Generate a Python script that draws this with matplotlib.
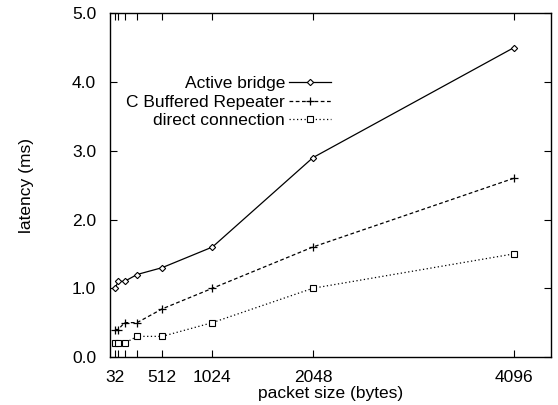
import matplotlib
matplotlib.use("Agg")
import matplotlib.pyplot as plt

plt.rcParams['font.family'] = ['Liberation Sans', 'DejaVu Sans']

# taille des paquets (octets)
packet_size = [32, 64, 128, 256, 512, 1024, 2048, 4096]
# latences mesurees (ms)
active_bridge = [1.0, 1.1, 1.1, 1.2, 1.3, 1.6, 2.9, 4.5]
buffered_repeater = [0.4, 0.4, 0.5, 0.5, 0.7, 1.0, 1.6, 2.6]
direct_connection = [0.2, 0.2, 0.2, 0.3, 0.3, 0.5, 1.0, 1.5]

x_labels = ["32", "512", "1024", "2048", "4096"]
x_label_pos = [32, 512, 1024, 2048, 4096]
y_ticks = [0.0, 1.0, 2.0, 3.0, 4.0, 5.0]

fig = plt.figure(figsize=(5.58, 4.05), dpi=100)
ax = fig.add_axes([110 / 558, 1 - 357 / 405, 441 / 558, (357 - 13.3) / 405])

fs = 12.5
ax.plot(packet_size, active_bridge, color="black", lw=0.9, ls="-",
        marker="D", ms=3.2, mfc="white", mec="black", mew=0.8,
        label="Active bridge")
ax.plot(packet_size, buffered_repeater, color="black", lw=0.9, ls=(0, (3, 2)),
        marker="+", ms=6, mew=0.9, label="C Buffered Repeater")
ax.plot(packet_size, direct_connection, color="black", lw=0.9, ls=(0, (1, 2)),
        marker="s", ms=4.5, mfc="white", mec="black", mew=0.8,
        label="direct connection")

ax.set_xlim(-20, 4475)
ax.set_ylim(0, 5.0)

ax.set_xticks(packet_size, minor=True)
ax.set_xticks(x_label_pos)
ax.set_xticklabels(x_labels, fontsize=fs)
ax.set_yticks(y_ticks)
ax.set_yticklabels(["%.1f" % v for v in y_ticks], fontsize=fs)
ax.tick_params(which="both", direction="in", top=True, right=True, length=5, width=0.8)
ax.tick_params(axis="x", which="minor", length=5)
ax.tick_params(axis="x", pad=9)
ax.tick_params(axis="y", pad=10)

for s in ax.spines.values():
    s.set_linewidth(1.0)

ax.set_xlabel("packet size (bytes)", fontsize=fs, labelpad=1)
ax.set_ylabel("latency (ms)", fontsize=fs, labelpad=27)

ax.legend(loc="upper right", bbox_to_anchor=(331 / 558, 1 - 76 / 405),
          bbox_transform=fig.transFigure, frameon=False, markerfirst=False,
          fontsize=fs, handlelength=2.4, handletextpad=0.25, labelspacing=0.2,
          borderpad=0, borderaxespad=0, numpoints=1)

fig.savefig("out.png", dpi=100)
